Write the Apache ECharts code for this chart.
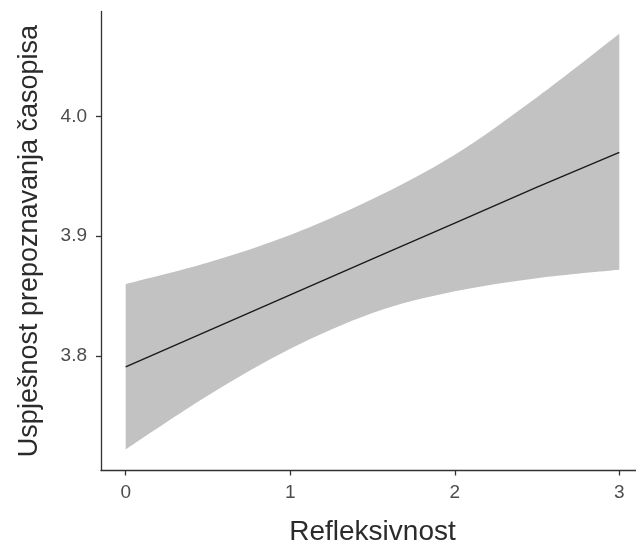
<!DOCTYPE html>
<html>
<head>
<meta charset="utf-8">
<script src="https://cdn.jsdelivr.net/npm/echarts@6/dist/echarts.min.js"></script>
<style>
html,body{margin:0;padding:0;background:#fff;}
#chart{width:636px;height:546px;}
</style>
</head>
<body>
<div id="chart"></div>
<script>
// Data
var xs = [0, 0.5, 1, 1.5, 2, 2.5, 3];
var fitValues = [3.791, 3.821, 3.851, 3.881, 3.911, 3.941, 3.970];
var upperValues = [3.860, 3.878, 3.901, 3.931, 3.968, 4.016, 4.069];
var lowerValues = [3.722, 3.767, 3.806, 3.836, 3.854, 3.865, 3.872];
var xTickValues = [0, 1, 2, 3];
var yTickValues = [3.8, 3.9, 4.0];
var xTitle = 'Refleksivnost';
var yTitle = 'Uspješnost prepoznavanja časopisa';

var fitData = xs.map(function (x, i) { return [x, fitValues[i]]; });
var bandData = xs.map(function (x, i) { return [x, lowerValues[i], upperValues[i]]; });

// Catmull-Rom spline through pixel points, as path segments (rendering only)
function splineSegs(pts) {
  var s = '';
  for (var i = 0; i < pts.length - 1; i++) {
    var p0 = pts[Math.max(i - 1, 0)], p1 = pts[i], p2 = pts[i + 1], p3 = pts[Math.min(i + 2, pts.length - 1)];
    var c1 = [p1[0] + (p2[0] - p0[0]) / 6, p1[1] + (p2[1] - p0[1]) / 6];
    var c2 = [p2[0] - (p3[0] - p1[0]) / 6, p2[1] - (p3[1] - p1[1]) / 6];
    s += ' C' + c1[0] + ' ' + c1[1] + ' ' + c2[0] + ' ' + c2[1] + ' ' + p2[0] + ' ' + p2[1];
  }
  return s;
}

function renderBand(params, api) {
  if (params.dataIndex !== 0) return null;
  var up = bandData.map(function (d) { return api.coord([d[0], d[2]]); });
  var lo = bandData.map(function (d) { return api.coord([d[0], d[1]]); }).reverse();
  var path = 'M' + up[0][0] + ' ' + up[0][1] + splineSegs(up) +
    ' L' + lo[0][0] + ' ' + lo[0][1] + splineSegs(lo) + ' Z';
  return {
    type: 'path',
    shape: {pathData: path},
    style: {fill: '#c2c2c2', stroke: null}
  };
}

var chart = echarts.init(document.getElementById('chart'), null, {renderer: 'canvas'});
var font = 'Liberation Sans, Arial, sans-serif';
chart.setOption({
  animation: false,
  backgroundColor: '#ffffff',
  grid: {left: 101, top: 11.5, width: 543, height: 459, containLabel: false, outerBoundsMode: 'none'},
  xAxis: {
    type: 'value',
    min: -0.15,
    max: 3.15,
    z: 10,
    name: xTitle,
    nameLocation: 'middle',
    nameGap: 48,
    nameTextStyle: {fontFamily: font, fontSize: 28, color: '#2b2b2b'},
    axisLine: {show: true, onZero: false, lineStyle: {color: '#333333', width: 1.3}},
    axisTick: {show: true, length: 5, customValues: xTickValues, lineStyle: {color: '#333333', width: 1.3}},
    axisLabel: {customValues: xTickValues, fontFamily: font, fontSize: 19, color: '#4d4d4d', margin: 13,
      formatter: function (v) { return String(v); }},
    splitLine: {show: false}
  },
  yAxis: {
    type: 'value',
    min: 3.7045,
    max: 4.0875,
    z: 10,
    name: yTitle,
    nameLocation: 'middle',
    nameGap: 58,
    nameRotate: 90,
    nameTextStyle: {fontFamily: font, fontSize: 27, color: '#2b2b2b'},
    axisLine: {show: true, onZero: false, lineStyle: {color: '#333333', width: 1.3}},
    axisTick: {show: true, length: 5, customValues: yTickValues, lineStyle: {color: '#333333', width: 1.3}},
    axisLabel: {customValues: yTickValues, fontFamily: font, fontSize: 19, color: '#4d4d4d', margin: 14,
      formatter: function (v) { return v.toFixed(1); }},
    splitLine: {show: false}
  },
  series: [
    {
      type: 'custom', data: bandData, renderItem: renderBand, clip: false,
      encode: {x: 0, y: [1, 2]}, silent: true, z: 1
    },
    {
      type: 'line', data: fitData, symbol: 'none', smooth: false,
      lineStyle: {color: '#1a1a1a', width: 1.4}, z: 3
    }
  ]
});
</script>
</body>
</html>
